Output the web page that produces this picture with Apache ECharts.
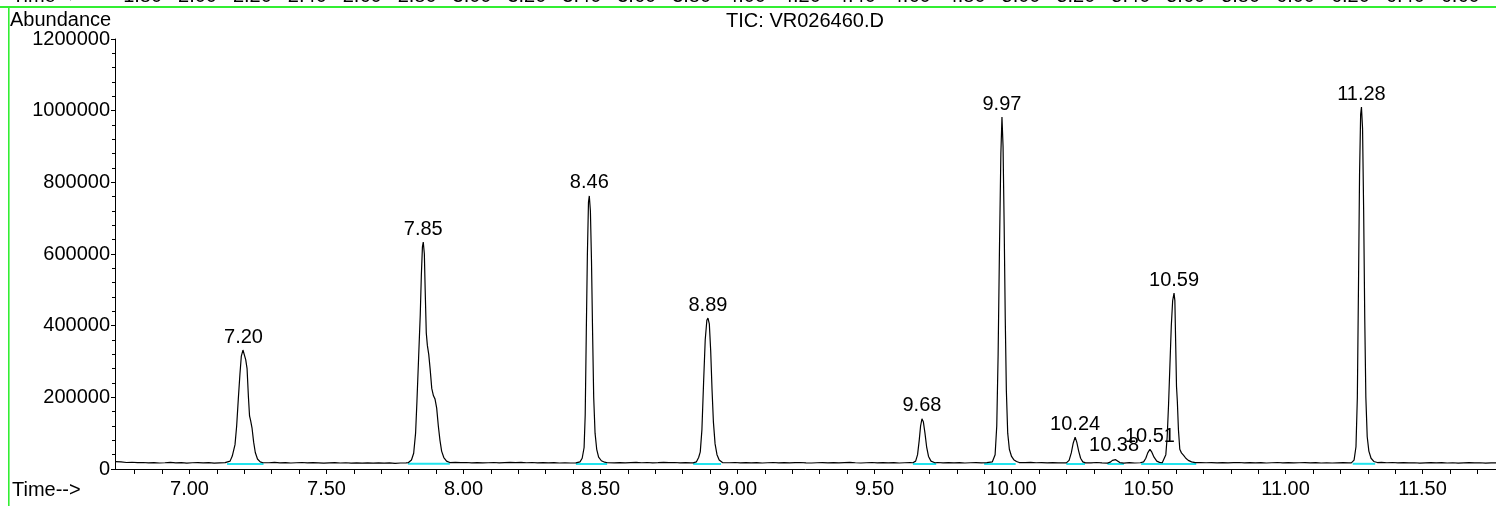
<!DOCTYPE html>
<html><head><meta charset="utf-8">
<script src="https://cdn.jsdelivr.net/npm/echarts@6/dist/echarts.min.js"></script>
<style>html,body{margin:0;padding:0;background:#fff;overflow:hidden}#c{width:1496px;height:506px}</style>
</head><body><div id="c"></div>
<script>
// ---------- text ----------
const chartTitle = 'TIC: VR026460.D';
const yAxisName = 'Abundance';
const xAxisName = 'Time-->';
// labels of the previous (cut-off) panel's time axis, visible at the very top
const prevPanelLabels = ['1.80','2.00','2.20','2.40','2.60','2.80','3.00','3.20','3.40','3.60','3.80','4.00','4.20','4.40','4.60','4.80','5.00','5.20','5.40','5.60','5.80','6.00','6.20','6.40','6.60'];

// ---------- axes ----------
const xMin = 6.728, xMax = 11.768;
const xTickValues = [6.8,6.9,7.0,7.1,7.2,7.3,7.4,7.5,7.6,7.7,7.8,7.9,8.0,8.1,8.2,8.3,8.4,8.5,8.6,8.7,8.8,8.9,9.0,9.1,9.2,9.3,9.4,9.5,9.6,9.7,9.8,9.9,10.0,10.1,10.2,10.3,10.4,10.5,10.6,10.7,10.8,10.9,11.0,11.1,11.2,11.3,11.4,11.5,11.6,11.7];
const xLabelValues = [7.0,7.5,8.0,8.5,9.0,9.5,10.0,10.5,11.0,11.5];
const yMin = 0, yMax = 1200000, yInterval = 200000;

// ---------- baseline (sampled every 0.02 min from 6.73) ----------
const baselineStart = 6.73, baselineStep = 0.02;
const baselineValues = [
20500,19800,18200,18900,17600,18100,17200,17900,16800,17500,
18300,17000,17700,16600,17400,18000,16900,17600,16500,17300,
17800,17000,17000,17000,17000,17000,17000,18200,17400,18500,
17100,17800,16700,17500,18100,16900,17600,17000,16400,17300,
17900,16800,17400,16500,17200,16300,17000,16600,17300,16200,
16900,15800,16700,17200,17000,17000,17000,17000,17000,17000,
17000,17000,18300,17600,18200,17100,17800,16900,17500,18100,
17300,18000,18600,17700,18400,17500,18100,17200,17900,17000,
17600,16800,17400,16700,17300,17000,17000,17000,17000,17000,
18000,17300,17900,17100,17700,18300,17400,18100,17200,17800,
18500,17600,18200,17300,17900,17100,17000,17000,17000,17000,
17000,18400,17500,18200,17300,17900,17000,17700,16800,17500,
18100,17200,17800,16900,17600,18200,17300,16700,17500,18000,
17100,17800,16900,17600,18300,17400,16800,17500,18100,17200,
17900,17000,17700,16800,17400,17900,17000,17000,17000,17000,
18100,17300,17900,17000,17600,16800,17500,18000,17200,17700,
17000,17000,17000,17000,17000,18600,17800,18300,17400,18000,
17100,17700,16900,17500,17000,17000,17000,18500,17300,18200,
17000,17000,17000,17000,17000,17600,16800,17400,17000,17000,
17000,17000,17000,17000,17000,17000,17000,17000,18200,17400,
18000,17100,17700,16900,17600,18200,17300,17900,17000,17600,
16800,17500,18100,17200,17800,16900,17500,18000,17100,17700,
16800,17400,16700,17300,17900,17000,17000,17000,17000,17000,
17000,18300,17500,18100,17200,17800,16900,17500,16600,17300,
17900,17000,17600,16700,17400,16500,17200,17800,16900,17500,
16600,17200,16800
];

// ---------- peaks: [time, abundance] ----------
const peak720 = [[7.136,17000],[7.148,22000],[7.156,36000],[7.166,68000],[7.172,120000],[7.178,195000],[7.184,265000],[7.189,315000],[7.195,332000],[7.200,328000],[7.205,305000],[7.210,280000],[7.215,200000],[7.219,148000],[7.223,135000],[7.228,115000],[7.234,75000],[7.240,46000],[7.248,28000],[7.258,20000],[7.268,17500]];
const peak785 = [[7.798,17500],[7.810,25000],[7.818,44000],[7.825,100000],[7.830,190000],[7.836,310000],[7.842,430000],[7.846,540000],[7.850,620000],[7.853,633000],[7.857,600000],[7.860,500000],[7.864,380000],[7.868,345000],[7.873,320000],[7.878,280000],[7.884,225000],[7.890,205000],[7.896,195000],[7.902,170000],[7.908,120000],[7.914,80000],[7.920,50000],[7.928,32000],[7.938,22000],[7.950,18000]];
const peak846 = [[8.410,17000],[8.425,20000],[8.433,30000],[8.440,60000],[8.444,150000],[8.448,380000],[8.452,600000],[8.456,745000],[8.459,762000],[8.463,720000],[8.467,580000],[8.471,380000],[8.475,200000],[8.480,100000],[8.486,55000],[8.493,33000],[8.503,23000],[8.515,19000],[8.525,17500]];
const peak889 = [[8.838,17000],[8.850,20000],[8.858,32000],[8.864,48000],[8.870,110000],[8.876,240000],[8.882,360000],[8.888,415000],[8.892,421000],[8.897,405000],[8.902,330000],[8.907,220000],[8.912,130000],[8.918,70000],[8.925,40000],[8.933,25000],[8.945,18000]];
const peak968 = [[9.640,17500],[9.650,22000],[9.657,40000],[9.663,80000],[9.668,120000],[9.673,140000],[9.678,132000],[9.684,100000],[9.690,62000],[9.697,35000],[9.706,22000],[9.720,17500]];
const peak997 = [[9.915,17000],[9.930,20000],[9.940,40000],[9.946,120000],[9.951,320000],[9.956,620000],[9.961,880000],[9.965,982000],[9.969,900000],[9.973,680000],[9.977,420000],[9.981,220000],[9.986,100000],[9.992,55000],[10.000,35000],[10.008,26000],[10.018,21000],[10.028,18000]];
const peak1024 = [[10.200,17000],[10.210,24000],[10.218,45000],[10.225,72000],[10.232,89000],[10.238,75000],[10.245,50000],[10.252,30000],[10.260,20000],[10.270,17000]];
const peak1038 = [[10.350,16500],[10.360,19000],[10.368,24000],[10.374,28000],[10.380,26000],[10.386,22000],[10.395,18000],[10.410,16500]];
const peak1051_1059 = [[10.473,17000],[10.482,20000],[10.490,30000],[10.497,45000],[10.505,55000],[10.512,47000],[10.520,33000],[10.530,22000],[10.540,18500],[10.550,17500],[10.557,20000],[10.563,40000],[10.568,90000],[10.573,180000],[10.578,290000],[10.583,400000],[10.588,470000],[10.593,491000],[10.596,470000],[10.599,350000],[10.602,230000],[10.605,190000],[10.609,110000],[10.614,55000],[10.620,45000],[10.628,38000],[10.636,30000],[10.645,24000],[10.657,20000],[10.670,18000]];
const peak1128 = [[11.240,17000],[11.250,25000],[11.257,62000],[11.262,200000],[11.266,500000],[11.270,820000],[11.274,990000],[11.277,1010000],[11.281,950000],[11.285,720000],[11.289,420000],[11.293,200000],[11.298,90000],[11.304,50000],[11.312,30000],[11.322,21000],[11.335,18000]];
const peakSegments = [peak720,peak785,peak846,peak889,peak968,peak997,peak1024,peak1038,peak1051_1059,peak1128];

// ---------- peak labels ----------
const peakLabels = ['7.20','7.85','8.46','8.89','9.68','9.97','10.24','10.38','10.51','10.59','11.28'];
const peakLabelTimes = [7.197,7.853,8.459,8.892,9.673,9.965,10.232,10.374,10.505,10.593,11.277];
const peakLabelHeights = [332000,633000,762000,421000,140000,982000,89000,28000,55000,491000,1010000];

// ---------- integration baselines (cyan) ----------
const intStart = [7.137,7.797,8.410,8.838,9.640,9.900,10.200,10.350,10.473,11.245];
const intEnd   = [7.270,7.950,8.524,8.940,9.725,10.015,10.268,10.410,10.674,11.327];
const intLevel = [14000,15000,14000,14000,14000,14000,14000,14000,14000,14500];

// ---------- build trace ----------
const windows = peakSegments.map(p => [p[0][0], p[p.length-1][0]]);
const trace = [];
baselineValues.forEach((v,i) => {
  const t = +(baselineStart + i*baselineStep).toFixed(3);
  if (!windows.some(w => t >= w[0] && t <= w[1])) trace.push([t, v]);
});
peakSegments.forEach(p => p.forEach(q => trace.push(q)));
trace.sort((a,b) => a[0]-b[0]);

const FONT = '"Liberation Sans", Arial, Helvetica, sans-serif';
const FS = 20;

const series = [];
intStart.forEach((s,i) => {
  series.push({type:'line', data:[[s,intLevel[i]],[intEnd[i],intLevel[i]]], symbol:'none', silent:true,
    lineStyle:{color:'#22e4ee', width:2}, z:1, animation:false});
});
series.push({type:'line', data:trace, symbol:'none', silent:true, clip:true,
  lineStyle:{color:'#000', width:1.2}, z:3, animation:false});
series.push({type:'scatter', symbolSize:0, silent:true, z:4, animation:false,
  itemStyle:{opacity:1},
  data: peakLabels.map((l,i)=>({value:[peakLabelTimes[i], peakLabelHeights[i]], name:l})),
  label:{show:true, position:'top', distance:3, formatter:p=>p.name, color:'#000', opacity:1, fontFamily:FONT, fontSize:FS}});

// top strip (cut-off axis labels of the previous panel)
const graphics = [];
graphics.push({type:'text', x:12, y:-14, style:{text:'Time-->', fill:'#000', font:`${FS}px ${FONT}`, textVerticalAlign:'top'}});
prevPanelLabels.forEach((l,i) => {
  graphics.push({type:'text', x:142.6 + 54.9*i, y:-14, style:{text:l, fill:'#000', font:`${FS}px ${FONT}`, textAlign:'center', textVerticalAlign:'top'}});
});
graphics.push({type:'rect', shape:{x:0,y:6,width:1496,height:2}, style:{fill:'#33ee33'}, z:10});
graphics.push({type:'rect', shape:{x:8,y:6,width:1.6,height:500}, style:{fill:'#33ee33'}, z:10});
graphics.push({type:'text', x:10, y:20, style:{text:yAxisName, fill:'#000', font:`${FS}px ${FONT}`, textVerticalAlign:'middle'}});
graphics.push({type:'text', x:805, y:21, style:{text:chartTitle, fill:'#000', font:`${FS}px ${FONT}`, textAlign:'center', textVerticalAlign:'middle'}});
graphics.push({type:'text', x:12, y:490, style:{text:xAxisName, fill:'#000', font:`${FS}px ${FONT}`, textVerticalAlign:'middle'}});

const chart = echarts.init(document.getElementById('c'), null, {renderer:'canvas'});
chart.setOption({
  animation:false,
  backgroundColor:'#fff',
  grid:{left:115, right:0, top:39, bottom:37, containLabel:false, outerBoundsMode:'none'},
  xAxis:{type:'value', min:xMin, max:xMax,
    axisLine:{show:true, lineStyle:{color:'#000', width:1}},
    axisTick:{show:true, length:5, customValues:xTickValues, lineStyle:{color:'#000'}},
    axisLabel:{show:true, customValues:xLabelValues, formatter:v=>v.toFixed(2), color:'#000', fontFamily:FONT, fontSize:FS, margin:10},
    splitLine:{show:false}},
  yAxis:{type:'value', min:yMin, max:yMax, interval:yInterval,
    axisLine:{show:true, lineStyle:{color:'#000', width:1}},
    axisTick:{show:true, length:4, lineStyle:{color:'#000'}},
    minorTick:{show:true, splitNumber:5, length:3, lineStyle:{color:'#000'}},
    axisLabel:{show:true, color:'#000', fontFamily:FONT, fontSize:FS, margin:5, formatter:v=>String(v)},
    splitLine:{show:false}},
  graphic:graphics,
  series:series
});
</script></body></html>
